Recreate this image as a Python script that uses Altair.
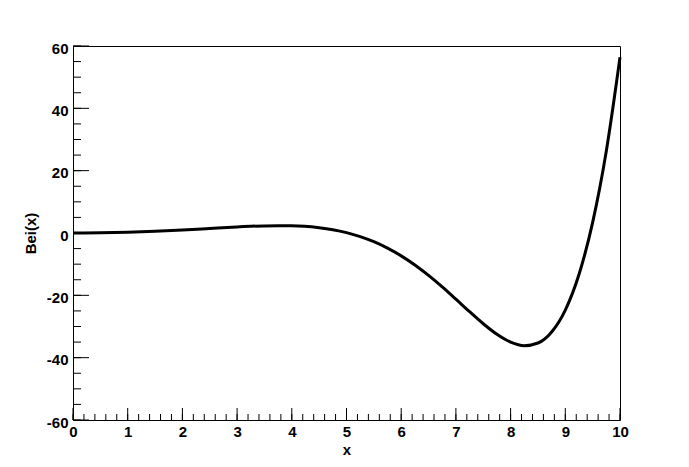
import altair as alt
import pandas as pd

# Values
x_vals = [0, 0.5, 1, 1.5, 2, 2.5, 3, 3.5, 4, 4.5, 4.75, 5, 5.25, 5.5, 5.75, 6,
          6.25, 6.5, 6.75, 7, 7.25, 7.5, 7.75, 8, 8.25, 8.5, 8.75, 9, 9.25,
          9.5, 9.75, 10]
bei_vals = [0, 0.062, 0.250, 0.558, 0.972, 1.457, 1.938, 2.283, 2.293, 1.686,
            1.045, 0.116, -1.148, -2.789, -4.844, -7.335, -10.264, -13.607,
            -17.301, -21.239, -25.256, -29.115, -32.504, -35.017, -36.150,
            -35.298, -31.753, -24.713, -13.300, 3.410, 26.343, 56.370]

# Tick positions
x_major = [0, 1, 2, 3, 4, 5, 6, 7, 8, 9, 10]
x_minor = [i / 5 for i in range(51)]
y_major = [-60, -40, -20, 0, 20, 40, 60]
y_minor = [-60 + 5 * i for i in range(25)]

W, H = 547, 374
FONT = 'Liberation Sans'

curve = pd.DataFrame({'x': x_vals, 'bei': bei_vals})
xs = alt.Scale(domain=[0, 10], nice=False, zero=False)
ys = alt.Scale(domain=[-60, 60], nice=False, zero=False)

x_axis = alt.Axis(values=x_major, ticks=False, domain=False, grid=False,
                  labelFlush=False, labelOverlap=False, labelPadding=4,
                  title='x', titlePadding=3)
# plain hyphen for negative labels, as in the reference
y_axis = alt.Axis(values=y_major, ticks=False, domain=False, grid=False,
                  labelFlush=False, labelOverlap=False, labelPadding=5,
                  labelOffset=2, labelExpr="replace(datum.label, '\u2212', '-')",
                  title='Bei(x)', titlePadding=8)

line = alt.Chart(curve).mark_line(color='black', strokeWidth=3, interpolate='monotone').encode(
    x=alt.X('x:Q', scale=xs, axis=x_axis),
    y=alt.Y('bei:Q', scale=ys, axis=y_axis)
)

def y_ticks(vals, length):
    return alt.Chart(pd.DataFrame({'v': vals})).mark_rule(color='black', strokeWidth=1).encode(
        y=alt.Y('v:Q', scale=ys, axis=y_axis),
        x=alt.value(0), x2=alt.value(length)
    )

def x_ticks(vals, length):
    return alt.Chart(pd.DataFrame({'u': vals})).mark_rule(color='black', strokeWidth=1).encode(
        x=alt.X('u:Q', scale=xs, axis=x_axis),
        y=alt.value(H), y2=alt.value(H - length)
    )

chart = alt.layer(
    line,
    y_ticks(y_minor, 8), y_ticks(y_major, 16),
    x_ticks(x_minor, 6), x_ticks(x_major, 12)
).properties(
    width=W, height=H,
    autosize=alt.AutoSizeParams(type='none'),
    padding={'left': 65, 'top': 38, 'right': 50, 'bottom': 40}
).configure_view(
    stroke='black', strokeWidth=1
).configure_axis(
    labelFont=FONT, labelFontWeight='bold', labelFontSize=15, labelColor='black',
    titleFont=FONT, titleFontWeight='bold', titleFontSize=15, titleColor='black'
)

chart.save("out.html", embed_options={"renderer": "svg", "actions": False})
